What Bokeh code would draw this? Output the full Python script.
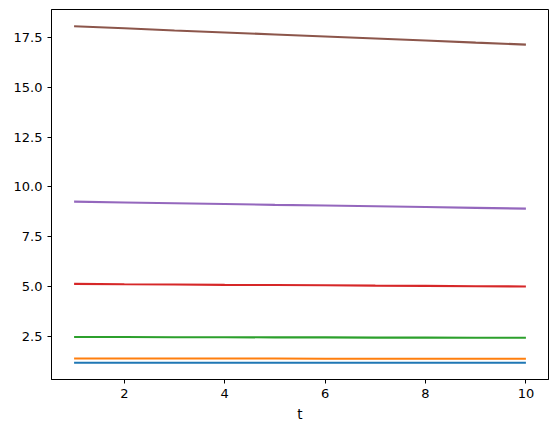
from bokeh.plotting import figure
from bokeh.models import FixedTicker, Range1d
from bokeh.embed import file_html
from bokeh.resources import INLINE

t = [1, 2, 3, 4, 5, 6, 7, 8, 9, 10]
s1 = [1.17, 1.17, 1.17, 1.17, 1.17, 1.17, 1.17, 1.17, 1.17, 1.17]
s2 = [1.38, 1.38, 1.38, 1.38, 1.38, 1.37, 1.37, 1.37, 1.37, 1.37]
s3 = [2.46, 2.46, 2.45, 2.45, 2.44, 2.44, 2.43, 2.43, 2.42, 2.42]
s4 = [5.13, 5.11, 5.10, 5.08, 5.07, 5.06, 5.04, 5.03, 5.01, 5.00]
s5 = [9.26, 9.22, 9.18, 9.14, 9.10, 9.07, 9.03, 8.99, 8.95, 8.91]
s6 = [18.07, 17.97, 17.86, 17.76, 17.66, 17.56, 17.46, 17.36, 17.25, 17.15]
series = [s1, s2, s3, s4, s5, s6]
colors = ["#1f77b4", "#ff7f0e", "#2ca02c", "#d62728", "#9467bd", "#8c564b"]
x_ticks = [2, 4, 6, 8, 10]
y_ticks = [2.5, 5.0, 7.5, 10.0, 12.5, 15.0, 17.5]

allv = [v for s in series for v in s]
ymin, ymax = min(allv), max(allv)
ym = (ymax - ymin) * 0.05
xm = (max(t) - min(t)) * 0.05

p = figure(width=556, height=432, output_backend="svg", toolbar_location=None,
           x_range=Range1d(min(t) - xm, max(t) + xm),
           y_range=Range1d(ymin - ym, ymax + ym),
           min_border_left=51, min_border_right=8, min_border_top=9, min_border_bottom=53)

for s, c in zip(series, colors):
    p.line(t, s, line_color=c, line_width=2.1)

p.xgrid.visible = False
p.ygrid.visible = False
p.outline_line_color = "black"
p.outline_line_width = 1
p.background_fill_color = "white"
p.border_fill_color = "white"

for ax in (p.xaxis[0], p.yaxis[0]):
    ax.axis_line_color = "black"
    ax.major_tick_line_color = "black"
    ax.major_tick_out = 4
    ax.major_tick_in = 0
    ax.minor_tick_line_color = None
    ax.major_label_text_font = "DejaVu Sans"
    ax.major_label_text_font_size = "13px"
    ax.major_label_text_color = "black"
    ax.major_label_standoff = 5

p.xaxis[0].ticker = FixedTicker(ticks=x_ticks)
p.yaxis[0].ticker = FixedTicker(ticks=y_ticks)
p.yaxis[0].major_label_overrides = {v: f"{v:.1f}" for v in y_ticks}
p.xaxis[0].axis_label = "t"
p.xaxis[0].axis_label_text_font = "DejaVu Sans"
p.xaxis[0].axis_label_text_font_size = "13.5px"
p.xaxis[0].axis_label_text_font_style = "normal"
p.xaxis[0].axis_label_text_color = "black"
p.xaxis[0].axis_label_standoff = 5

open("out.html", "w").write(file_html(p, INLINE))
